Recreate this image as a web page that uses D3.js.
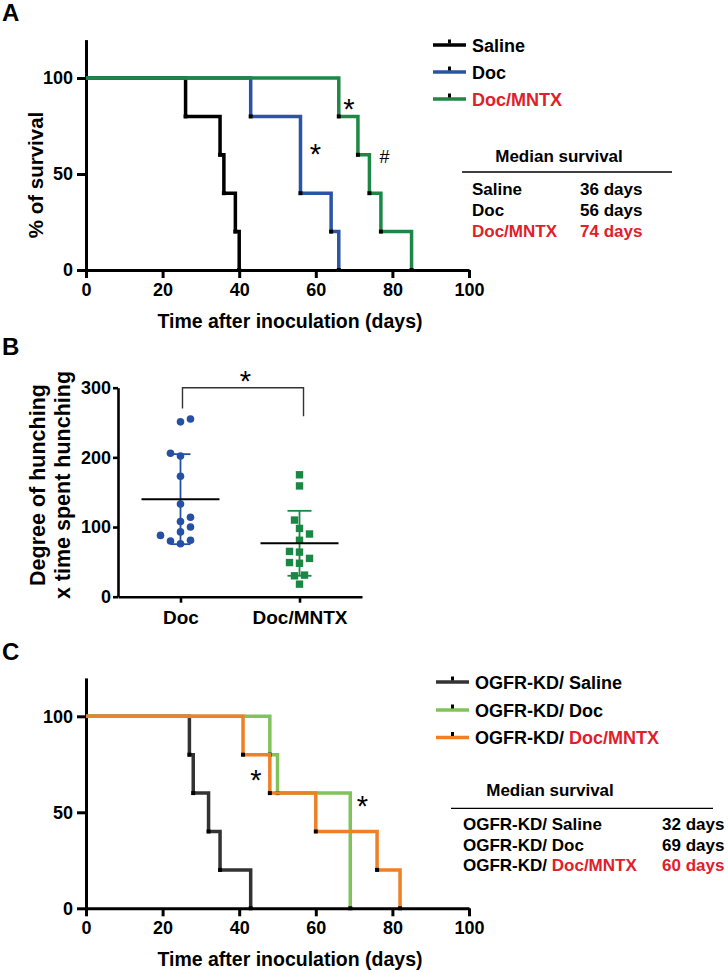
<!DOCTYPE html>
<html><head><meta charset="utf-8">
<script src="https://cdn.jsdelivr.net/npm/d3@7"></script>
<style>
body{margin:0;background:#fff;}
svg{display:block;}
</style></head><body>
<svg id="chart" width="728" height="973"></svg>
<script>
// ---------- Panel A data ----------
const groupsA = ["Saline", "Doc", "Doc/MNTX"];
const salineA_time = [0, 26, 35, 36, 39, 40];
const salineA_surv = [100, 80, 60, 40, 20, 0];
const docA_time = [0, 43, 56, 64, 66];
const docA_surv = [100, 80, 40, 20, 0];
const mntxA_time = [0, 66, 71, 74, 77, 85];
const mntxA_surv = [100, 80, 60, 40, 20, 0];
const medianA = ["36 days", "56 days", "74 days"];

// ---------- Panel B data ----------
const categoriesB = ["Doc", "Doc/MNTX"];
const docB_values = [255, 251, 206, 202, 173, 133, 114, 108, 100, 93, 88, 81, 80, 76];
const mntxB_values = [175, 159, 110, 98, 90, 81, 65, 64, 55, 49, 48, 31, 30, 18];

// ---------- Panel C data ----------
const groupsC = ["OGFR-KD/ Saline", "OGFR-KD/ Doc", "OGFR-KD/ Doc/MNTX"];
const salineC_time = [0, 27, 28, 32, 35, 43];
const salineC_surv = [100, 80, 60, 40, 20, 0];
const docC_time = [0, 48, 50, 69];
const docC_surv = [100, 80, 60, 0];
const mntxC_time = [0, 41, 48, 60, 76, 82];
const mntxC_surv = [100, 80, 60, 40, 20, 0];
const medianC = ["32 days", "69 days", "60 days"];

// ---------- ticks ----------
const xTicksDays = [0, 20, 40, 60, 80, 100];
const yTicksSurv = [0, 50, 100];
const yTicksB = [0, 100, 200, 300];

const FONT = '"Liberation Sans", Arial, Helvetica, sans-serif';
const RED = "#e0202a";
const svg = d3.select("#chart").attr("font-family", FONT);

function styleAxis(g, fs) {
  g.attr("font-family", FONT).attr("font-size", fs).attr("font-weight", "bold");
  g.select(".domain").attr("stroke", "#000").attr("stroke-width", 3);
  g.selectAll(".tick line").attr("stroke", "#000").attr("stroke-width", 3);
  g.selectAll(".tick text").attr("fill", "#000");
}

function panelLetter(txt, x, y) {
  svg.append("text").attr("x", x).attr("y", y).text(txt)
    .attr("font-size", 24).attr("font-weight", "bold").attr("fill", "#000");
}

function star(x, y, sym, fs) {
  // x,y = visual centre of glyph
  const off = sym === "*" ? 0.55 * fs : 0.36 * fs;
  svg.append("text").attr("x", x).attr("y", y + off).attr("text-anchor", "middle")
    .attr("font-size", fs).attr("fill", "#000").text(sym);
}

// ---------- Kaplan-Meier panel ----------
function kmPanel(cfg) {
  const x = d3.scaleLinear().domain([0, 100]).range([86, 469]);
  const y = d3.scaleLinear().domain([0, 120]).range([cfg.y0, cfg.y0 - 230.4]);
  const g = svg.append("g");

  const gx = g.append("g").attr("transform", `translate(0,${cfg.y0})`)
    .call(d3.axisBottom(x).tickValues(xTicksDays).tickSize(8).tickSizeOuter(0).tickPadding(5));
  styleAxis(gx, 18);
  const gy = g.append("g").attr("transform", `translate(86,0)`)
    .call(d3.axisLeft(y).tickValues(yTicksSurv).tickSize(9).tickSizeOuter(0).tickPadding(4));
  styleAxis(gy, 18);

  const line = d3.line().x(d => x(d[0])).y(d => y(d[1])).curve(d3.curveStepAfter);
  cfg.series.forEach(s => {
    const pts = s.t.map((t, i) => [t, s.s[i]]);
    g.append("path").attr("d", line(pts)).attr("fill", "none")
      .attr("stroke", s.color).attr("stroke-width", 3.5).attr("stroke-linejoin", "miter");
    g.selectAll(null).data(pts.slice(1)).enter().append("rect")
      .attr("x", d => x(d[0]) - 2).attr("y", d => y(d[1]) - 2)
      .attr("width", 4).attr("height", 4).attr("fill", "#000");
  });

  g.append("text").attr("x", 290).attr("y", cfg.y0 + 58).attr("text-anchor", "middle")
    .attr("font-size", 19.5).attr("font-weight", "bold").text("Time after inoculation (days)");

  // legend
  cfg.series.forEach((s, i) => {
    const ly = cfg.legendY[i];
    g.append("line").attr("x1", cfg.legX1).attr("x2", cfg.legX1 + 33)
      .attr("y1", ly).attr("y2", ly).attr("stroke", s.color).attr("stroke-width", 3.5);
    g.append("rect").attr("x", cfg.legX1 + 15).attr("y", ly - 5.5).attr("width", 3).attr("height", 4).attr("fill", "#000");
    const t = g.append("text").attr("x", cfg.legX1 + 39).attr("y", ly + 6.5)
      .attr("font-size", 18).attr("font-weight", "bold");
    s.label.forEach(p => t.append("tspan").attr("fill", p.red ? RED : "#000").text(p.txt));
  });

  // median table
  g.append("text").attr("x", cfg.medCx).attr("y", cfg.medTitleY).attr("text-anchor", "middle")
    .attr("font-size", 17).attr("font-weight", "bold").text("Median survival");
  g.append("line").attr("x1", cfg.medLine[0]).attr("x2", cfg.medLine[1])
    .attr("y1", cfg.medLineY).attr("y2", cfg.medLineY).attr("stroke", "#000").attr("stroke-width", 1.3);
  cfg.series.forEach((s, i) => {
    const ry = cfg.rowY[i];
    const t = g.append("text").attr("x", cfg.rowX).attr("y", ry).attr("font-size", 17).attr("font-weight", "bold");
    s.label.forEach(p => t.append("tspan").attr("fill", p.red ? RED : "#000").text(p.txt));
    g.append("text").attr("x", cfg.daysX).attr("y", ry).attr("font-size", 17).attr("font-weight", "bold")
      .attr("fill", s.redDays ? RED : "#000").text(cfg.medians[i]);
  });
  return { x, y };
}

// ---------- Panel A ----------
panelLetter("A", 2, 21);
const A = kmPanel({
  y0: 270,
  series: [
    { t: salineA_time, s: salineA_surv, color: "#000000", label: [{ txt: groupsA[0] }] },
    { t: docA_time, s: docA_surv, color: "#2a54a5", label: [{ txt: groupsA[1] }] },
    { t: mntxA_time, s: mntxA_surv, color: "#1f8745", label: [{ txt: groupsA[2], red: true }], redDays: true }
  ],
  legendY: [45, 72, 99], legX1: 433,
  medCx: 559, medTitleY: 161.5, medLine: [462, 672], medLineY: 172,
  rowX: 472, daysX: 580, rowY: [195, 216, 237], medians: medianA
});
svg.append("text").attr("transform", "translate(43,175) rotate(-90)").attr("text-anchor", "middle")
  .attr("font-size", 20.5).attr("font-weight", "bold").text("% of survival");
star(349, 103, "*", 29);
star(315.5, 148, "*", 29);
star(384.5, 157, "#", 18);

// ---------- Panel B ----------
panelLetter("B", 2, 355);
const xB = d3.scalePoint().domain(categoriesB).range([118, 362]).padding(0.525);
const yB = d3.scaleLinear().domain([0, 300]).range([596.7, 387.7]);
const gB = svg.append("g");
const gBx = gB.append("g").attr("transform", "translate(0,596.7)")
  .call(d3.axisBottom(xB).tickSize(6).tickSizeOuter(0).tickPadding(8));
styleAxis(gBx, 19);
const gBy = gB.append("g").attr("transform", "translate(118,0)")
  .call(d3.axisLeft(yB).tickValues(yTicksB).tickSize(5).tickSizeOuter(0).tickPadding(2));
styleAxis(gBy, 18);
gBx.select(".domain").attr("stroke-width", 2.6);
gBy.select(".domain").attr("stroke-width", 2.6);
gB.selectAll(".tick line").attr("stroke-width", 2.6);

// beeswarm offsets computed from the values
function swarm(values, yScale, step, minDist) {
  const order = values.map((v, i) => i).sort((a, b) => values[a] - values[b]);
  const placed = [], off = new Array(values.length);
  let sum = 0;
  for (const i of order) {
    const py = yScale(values[i]);
    let chosen = null;
    for (let k = 0; k < 12 && chosen === null; k++) {
      const mag = k * step;
      const cands = k === 0 ? [0] : (sum > 0 ? [-mag, mag] : [mag * (sum < 0 ? 1 : -1), mag * (sum < 0 ? -1 : 1)]);
      for (const dx of cands) {
        if (placed.every(p => Math.hypot(p.dx - dx, p.y - py) >= minDist)) { chosen = dx; break; }
      }
    }
    off[i] = chosen; sum += chosen; placed.push({ dx: chosen, y: py });
  }
  return off;
}

const bGroups = [
  { cat: categoriesB[0], vals: docB_values, color: "#2650a3", shape: "circle", cap: 10 },
  { cat: categoriesB[1], vals: mntxB_values, color: "#1b8744", shape: "square", cap: 12 }
];
bGroups.forEach(grp => {
  const cx = xB(grp.cat);
  const offs = swarm(grp.vals, yB, 5, 9);
  grp.vals.forEach((v, i) => {
    if (grp.shape === "circle") {
      gB.append("circle").attr("cx", cx + offs[i]).attr("cy", yB(v)).attr("r", 3.8).attr("fill", grp.color);
    } else {
      gB.append("rect").attr("x", cx + offs[i] - 3.7).attr("y", yB(v) - 3.7)
        .attr("width", 7.4).attr("height", 7.4).attr("fill", grp.color);
    }
  });
  const m = d3.mean(grp.vals), sd = d3.deviation(grp.vals);
  gB.append("line").attr("x1", cx).attr("x2", cx).attr("y1", yB(m - sd)).attr("y2", yB(m + sd))
    .attr("stroke", grp.color).attr("stroke-width", 1.8);
  [m - sd, m + sd].forEach(v => gB.append("line").attr("x1", cx - grp.cap).attr("x2", cx + grp.cap)
    .attr("y1", yB(v)).attr("y2", yB(v)).attr("stroke", grp.color).attr("stroke-width", 1.8));
  gB.append("line").attr("x1", cx - 39).attr("x2", cx + 39).attr("y1", yB(m)).attr("y2", yB(m))
    .attr("stroke", "#000").attr("stroke-width", 2);
});
// significance bracket
const bx1 = xB(categoriesB[0]) + 2, bx2 = xB(categoriesB[1]) + 4;
gB.append("path").attr("d", `M${bx1},${yB(270)}V${yB(300)}H${bx2}V${yB(259)}`)
  .attr("fill", "none").attr("stroke", "#333").attr("stroke-width", 1.4);
star(245.5, 375.5, "*", 29);

svg.append("text").attr("transform", "translate(45,485) rotate(-90)").attr("text-anchor", "middle")
  .attr("font-size", 21.5).attr("font-weight", "bold").text("Degree of hunching");
svg.append("text").attr("transform", "translate(70,485) rotate(-90)").attr("text-anchor", "middle")
  .attr("font-size", 21.5).attr("font-weight", "bold").text("x time spent hunching");

// ---------- Panel C ----------
panelLetter("C", 2, 660);
const C = kmPanel({
  y0: 908.3,
  series: [
    { t: salineC_time, s: salineC_surv, color: "#333333", label: [{ txt: groupsC[0] }] },
    { t: docC_time, s: docC_surv, color: "#80c35a", label: [{ txt: groupsC[1] }] },
    { t: mntxC_time, s: mntxC_surv, color: "#f07f25", label: [{ txt: "OGFR-KD/ " }, { txt: groupsC[2].replace("OGFR-KD/ ", ""), red: true }], redDays: true }
  ],
  legendY: [682, 710, 737.5], legX1: 436,
  medCx: 550, medTitleY: 796, medLine: [451, 713], medLineY: 808.3,
  rowX: 463, daysX: 662, rowY: [830, 851, 871], medians: medianC
});
star(256, 774, "*", 29);
star(362.5, 800.5, "*", 29);
</script>
</body></html>
